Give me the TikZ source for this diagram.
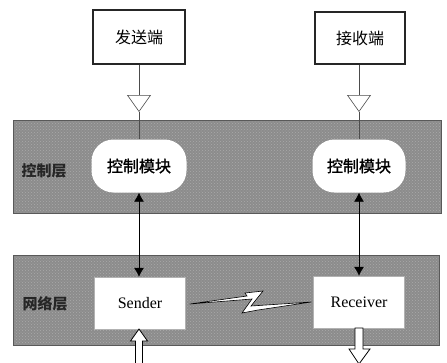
\documentclass[tikz,border=0pt]{standalone}
\usepackage{fontspec}
\setmainfont{Liberation Serif}
\newfontfamily\cjk{Noto Sans CJK SC}
\newfontfamily\cjkm[FakeBold=1.2]{Noto Sans CJK SC}
\usetikzlibrary{arrows.meta,patterns,calc}
\definecolor{bandgray}{RGB}{140,140,140}
\definecolor{dotgray}{RGB}{170,170,170}
\begin{document}
\begin{tikzpicture}[x=1pt,y=-1pt,
  topbox/.style={draw=black!85,line width=1.3pt,fill=white,minimum width=92pt,minimum height=54pt,inner sep=0pt,font=\cjk\fontsize{16}{16}\selectfont},
  band/.style={draw=gray!70!black,line width=0.5pt,preaction={fill=bandgray},pattern=crosshatch dots,pattern color=dotgray},
  ctrlmod/.style={fill=white,rounded corners=22pt,minimum width=95pt,minimum height=53pt,inner sep=0pt,font=\cjkm\fontsize{16}{16}\selectfont},
  netbox/.style={fill=white,draw=gray!60,line width=0.4pt,minimum width=91pt,minimum height=52pt,inner sep=0pt,font=\fontsize{16}{16}\selectfont},
  layerlabel/.style={font=\cjk\bfseries\fontsize{15}{15}\selectfont,text=black!85},
  feed/.style={draw=black!70,line width=0.6pt},
  opentri/.style={feed,-{Triangle[open,length=17pt,width=24pt]}},
  link/.style={draw=black,line width=0.7pt,{Latex[length=9pt,width=10pt]}-{Latex[length=9pt,width=10pt]}},
  blockarrow/.style={fill=white,draw=black,line width=0.8pt}
  ]
\useasboundingbox (0,0) rectangle (447,362);
\fill[white] (0,0) rectangle (447,362);

% bands
\path[band] (13,120) rectangle (441,213);
\path[band] (13,255) rectangle (439,345);

% top boxes
\node[topbox] (snd) at (139,37) {发送端};
\node[topbox,minimum width=90pt,minimum height=52pt] (rcv) at (360,38) {接收端};

% control modules
\node[ctrlmod] (cm1) at (139,166) {控制模块};
\node[ctrlmod,minimum width=93pt] (cm2) at (359,166) {控制模块};

% network boxes
\node[netbox] (s) at (140,303) {Sender};
\node[netbox] (r) at (359,302) {Receiver};

% layer labels
\node[layerlabel] (l1) at (44,171) {控制层};
\node[layerlabel] (l2) at (45,304) {网络层};

% feed arrows with open triangles
\coordinate (t1) at (139,112);
\coordinate (t2) at (359,112);
\draw[opentri] (snd.south -| t1) -- (t1);
\draw[feed] (t1) -- (cm1.north -| t1);
\draw[opentri] (rcv.south -| t2) -- (t2);
\draw[feed] (t2) -- (cm2.north -| t2);

% control <-> network
\draw[link] (cm1.south -| t1) -- (s.north -| t1);
\draw[link] (cm2.south -| t2) -- (r.north -| t2);

% lightning
\path[fill=white,draw=black,line width=0.6pt,line join=miter]
  ($(s.east)+(4,1)$) -- (247,296) -- (245,293) -- (263,291) -- (251,306)
  -- ($(r.west)+(-2,0)$) -- (258,310) -- (242,313) -- (252,299) -- cycle;

% bottom block arrows
\coordinate (u) at (139,329);
\path[blockarrow] (u) -- ++(8.5,12) -- ++(-5,0) -- ++(0,24) -- ++(-7,0) -- ++(0,-24) -- ++(-5,0) -- cycle;
\coordinate (d) at (359,328);
\path[blockarrow] ($(d)+(-4,0)$) -- ++(0,21) -- ++(-6,0) -- (359,364) -- (370,349) -- ++(-7,0) -- ++(0,-21) -- cycle;
\end{tikzpicture}
\end{document}
